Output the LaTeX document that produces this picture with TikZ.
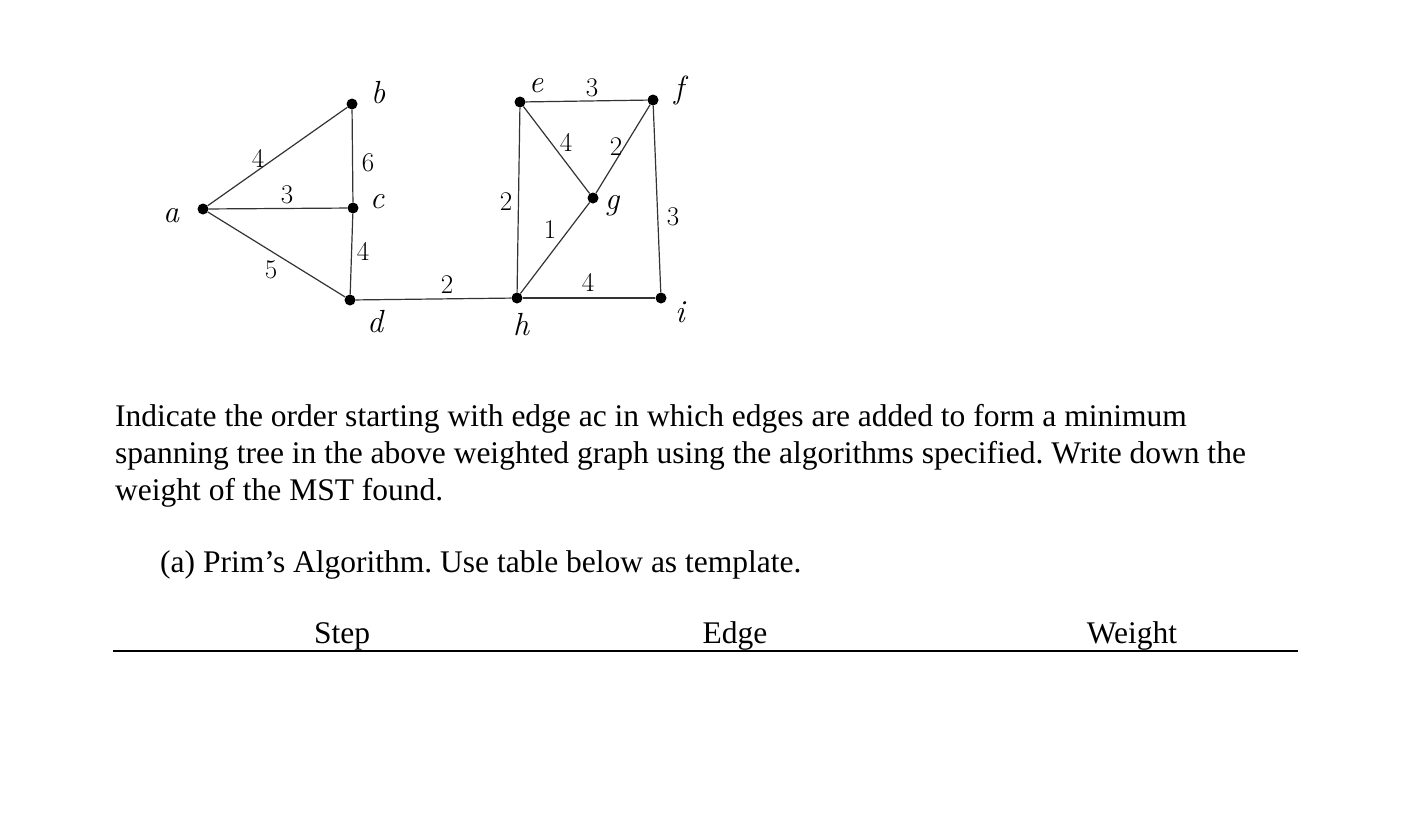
\documentclass[tikz,border=0pt]{standalone}
\usepackage{fontspec}
\setmainfont{Liberation Serif}
\newfontfamily\handfont{Latin Modern Roman}
\begin{document}
\frenchspacing
\begin{tikzpicture}[x=1pt,y=-1pt,
  vtx/.style={circle,fill=black,inner sep=0pt,minimum size=11pt},
  edge/.style={draw=black!80,line width=1.2pt},
  vlab/.style={font=\handfont\itshape\fontsize{32}{32}\selectfont},
  wlab/.style={font=\handfont\fontsize{27}{27}\selectfont},
  txt/.style={anchor=base west,inner sep=0pt,font=\fontsize{31.5}{37}\selectfont}]
\useasboundingbox (0,0) rectangle (1412,812);
\node[vtx] (a) at (203,209) {};
\node[vtx] (b) at (352,104) {};
\node[vtx] (c) at (353,208) {};
\node[vtx] (d) at (350,300) {};
\node[vtx] (e) at (520,102) {};
\node[vtx] (f) at (653,100) {};
\node[vtx] (g) at (593,198) {};
\node[vtx] (h) at (517,298) {};
\node[vtx] (i) at (661,298) {};
\draw[edge] (a) -- (b);
\draw[edge] (a) -- (c);
\draw[edge] (a) -- (d);
\draw[edge] (b) -- (c);
\draw[edge] (c) -- (d);
\draw[edge] (d) -- (h);
\draw[edge] (e) -- (f);
\draw[edge] (e) -- (g);
\draw[edge] (e) -- (h);
\draw[edge] (f) -- (g);
\draw[edge] (g) -- (h);
\draw[edge] (f) -- (i);
\draw[edge] (h) -- (i);
\node[vlab] (la) at (171,216) {a};
\node[vlab] (lb) at (378,93) {b};
\node[vlab] (lc) at (377,202) {c};
\node[vlab] (ld) at (375,322) {d};
\node[vlab] (le) at (536,86) {e};
\node[vlab] (lf) at (679,90) {f};
\node[vlab] (lg) at (612,206) {g};
\node[vlab] (lh) at (521,325) {h};
\node[vlab] (li) at (680,312) {i};
\node[wlab] (wab) at (258,158) {4};
\node[wlab] (wac) at (287,195) {3};
\node[wlab] (wad) at (271,270) {5};
\node[wlab] (wbc) at (368,163) {6};
\node[wlab] (wcd) at (363,251) {4};
\node[wlab] (wdh) at (447,285) {2};
\node[wlab] (wef) at (592,88) {3};
\node[wlab] (weg) at (566,142) {4};
\node[wlab] (wfg) at (616,147) {2};
\node[wlab] (weh) at (506,202) {2};
\node[wlab] (wgh) at (550,230) {1};
\node[wlab] (wfi) at (673,217) {3};
\node[wlab] (whi) at (588,282) {4};
\node[txt] (t1) at (115,426) {Indicate the order starting with edge ac in which edges are added to form a minimum};
\node[txt] (t2) at (115,463) {spanning tree in the above weighted graph using the algorithms specified. Write down the};
\node[txt] (t3) at (115,500) {weight of the MST found.};
\node[txt] (t4) at (160,572) {(a) Prim’s Algorithm. Use table below as template.};
\node[txt,anchor=base] (s1) at (342,643) {Step};
\node[txt,anchor=base] (s2) at (735,643) {Edge};
\node[txt,anchor=base] (s3) at (1132,643) {Weight};
\coordinate (l1) at (113,651);
\coordinate (l2) at (1298,651);
\draw[line width=1.3pt] (l1) -- (l2);
\end{tikzpicture}
\end{document}
